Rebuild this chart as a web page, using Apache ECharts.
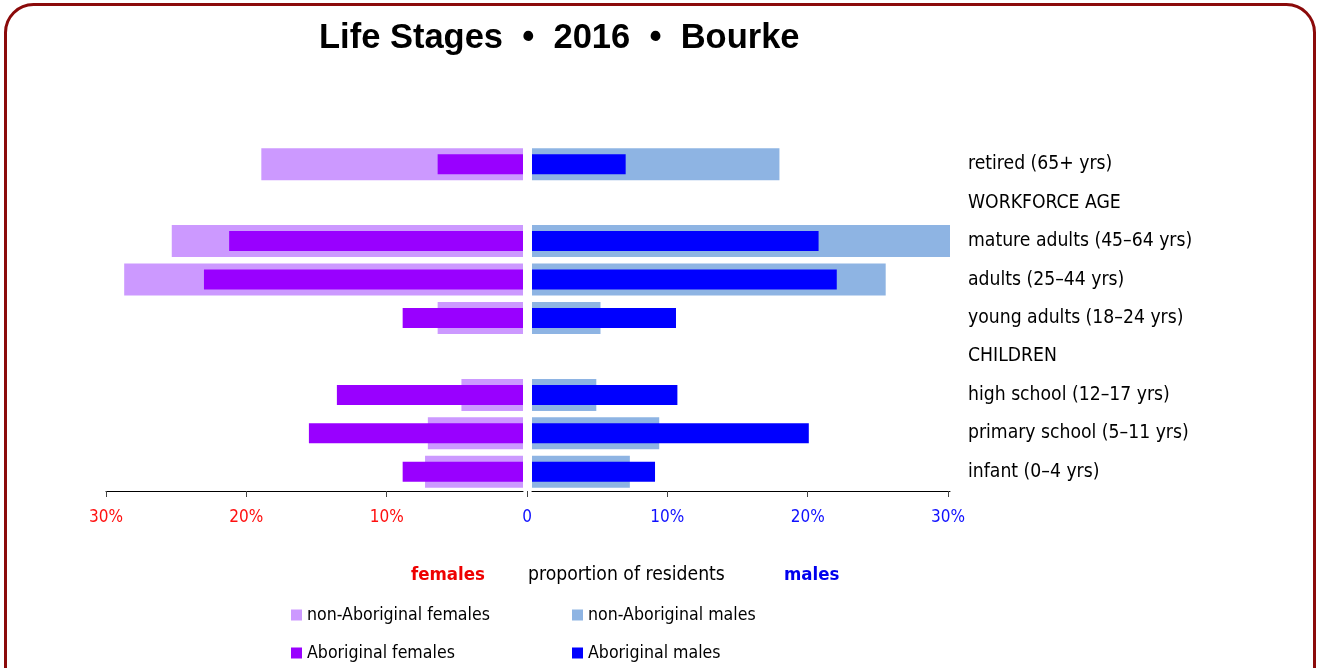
<!DOCTYPE html>
<html>
<head>
<meta charset="utf-8">
<script src="https://cdn.jsdelivr.net/npm/echarts@6/dist/echarts.min.js"></script>
<style>
  html, body { margin: 0; padding: 0; background: #fff; }
  #chart { width: 1320px; height: 668px; }
</style>
</head>
<body>
<div id="chart"></div>
<script>
// categories run bottom to top; heading rows carry no bars
const categories = [
  'infant (0–4 yrs)',
  'primary school (5–11 yrs)',
  'high school (12–17 yrs)',
  'CHILDREN',
  'young adults (18–24 yrs)',
  'adults (25–44 yrs)',
  'mature adults (45–64 yrs)',
  'WORKFORCE AGE',
  'retired (65+ yrs)'
];
const nonAbFemales = [7.0, 6.8, 4.4, null, 6.1, 28.5, 25.1, null, 18.7];
const abFemales    = [8.6, 15.3, 13.3, null, 8.6, 22.8, 21.0, null, 6.1];
const nonAbMales   = [7.0, 9.1, 4.6, null, 4.9, 25.3, 29.9, null, 17.7];
const abMales      = [8.8, 19.8, 10.4, null, 10.3, 21.8, 20.5, null, 6.7];
const tickValues = [-30, -20, -10, 0, 10, 20, 30];

const NARROW = "'DejaVu Sans Condensed', 'Liberation Sans Narrow', sans-serif";
const SANS = "'Liberation Sans', Arial, sans-serif";

const chart = echarts.init(document.getElementById('chart'));

const hiddenCat = (gridIndex, extra) => Object.assign({
  type: 'category',
  gridIndex: gridIndex,
  data: categories,
  axisLine: { show: false },
  axisTick: { show: false },
  axisLabel: { show: false },
  splitLine: { show: false }
}, extra || {});

const barLine = { show: true, lineStyle: { color: '#000', width: 1 } };

const legendBase = {
  orient: 'vertical', top: 605, padding: 0, height: 64,
  itemWidth: 11, itemHeight: 11, itemGap: 18, icon: 'rect',
  textStyle: { fontFamily: NARROW, fontSize: 17.6, lineHeight: 20, color: '#000' }
};

const option = {
  animation: false,
  backgroundColor: '#fff',
  title: {
    text: 'Life Stages  •  2016  •  Bourke',
    left: 314,
    top: 16,
    textStyle: { fontFamily: SANS, fontSize: 34.5, fontWeight: 'bold', color: '#000' }
  },
  grid: [
    { left: 106, top: 145, width: 417, height: 346 },
    { left: 532, top: 145, width: 418, height: 346 },
    { left: 106, top: 145, width: 842, height: 346 }
  ],
  xAxis: [
    {
      type: 'value', gridIndex: 0, inverse: true, min: 0, max: 29.8,
      axisLine: barLine, axisTick: { show: false }, axisLabel: { show: false },
      splitLine: { show: false }
    },
    {
      type: 'value', gridIndex: 1, min: 0, max: 29.9,
      axisLine: barLine, axisTick: { show: false }, axisLabel: { show: false },
      splitLine: { show: false }
    },
    {
      type: 'value', gridIndex: 2, min: -30, max: 30, interval: 10,
      axisLine: { show: false },
      axisTick: { show: true, length: 6, lineStyle: { color: '#444' } },
      splitLine: { show: false },
      axisLabel: {
        margin: 18,
        fontFamily: NARROW,
        fontSize: 17,
        formatter: v => (v === 0 ? '0' : Math.abs(v) + '%'),
        color: v => (v < 0 ? '#ff1010' : '#1010ff')
      }
    }
  ],
  yAxis: [
    hiddenCat(0),
    hiddenCat(0),
    hiddenCat(1, {
      position: 'right',
      axisLabel: {
        show: true, margin: 18, align: 'left',
        fontFamily: NARROW, fontSize: 19.2, color: '#000'
      }
    }),
    hiddenCat(1),
    { type: 'value', gridIndex: 2, show: false }
  ],
  legend: [
    Object.assign({ left: 291, data: ['non-Aboriginal females', 'Aboriginal females'] }, legendBase),
    Object.assign({ left: 572, data: ['non-Aboriginal males', 'Aboriginal males'] }, legendBase)
  ],
  graphic: [
    {
      type: 'rect', silent: true,
      shape: { x: 5.5, y: 4.5, width: 1309, height: 720, r: 28 },
      style: { fill: 'none', stroke: '#8b0a0a', lineWidth: 3 }
    },
    {
      type: 'text', left: 411, top: 566,
      style: { text: 'females', fill: '#ee0000', font: 'bold 18.5px ' + NARROW }
    },
    {
      type: 'text', left: 528, top: 566,
      style: { text: 'proportion of residents', fill: '#000', font: '19.2px ' + NARROW }
    },
    {
      type: 'text', left: 784, top: 566,
      style: { text: 'males', fill: '#0000ee', font: 'bold 18.5px ' + NARROW }
    }
  ],
  series: [
    {
      name: 'non-Aboriginal females', type: 'bar', xAxisIndex: 0, yAxisIndex: 0,
      barWidth: 32, itemStyle: { color: '#cc99ff' }, data: nonAbFemales
    },
    {
      name: 'Aboriginal females', type: 'bar', xAxisIndex: 0, yAxisIndex: 1,
      barWidth: 20, itemStyle: { color: '#9900ff' }, data: abFemales
    },
    {
      name: 'non-Aboriginal males', type: 'bar', xAxisIndex: 1, yAxisIndex: 2,
      barWidth: 32, itemStyle: { color: '#8eb4e3' }, data: nonAbMales
    },
    {
      name: 'Aboriginal males', type: 'bar', xAxisIndex: 1, yAxisIndex: 3,
      barWidth: 20, itemStyle: { color: '#0000ff' }, data: abMales
    },
    {
      // carries the shared tick scale only
      type: 'scatter', xAxisIndex: 2, yAxisIndex: 4, silent: true,
      symbolSize: 0, data: tickValues.map(v => [v, 0])
    }
  ]
};

chart.setOption(option);
</script>
</body>
</html>
